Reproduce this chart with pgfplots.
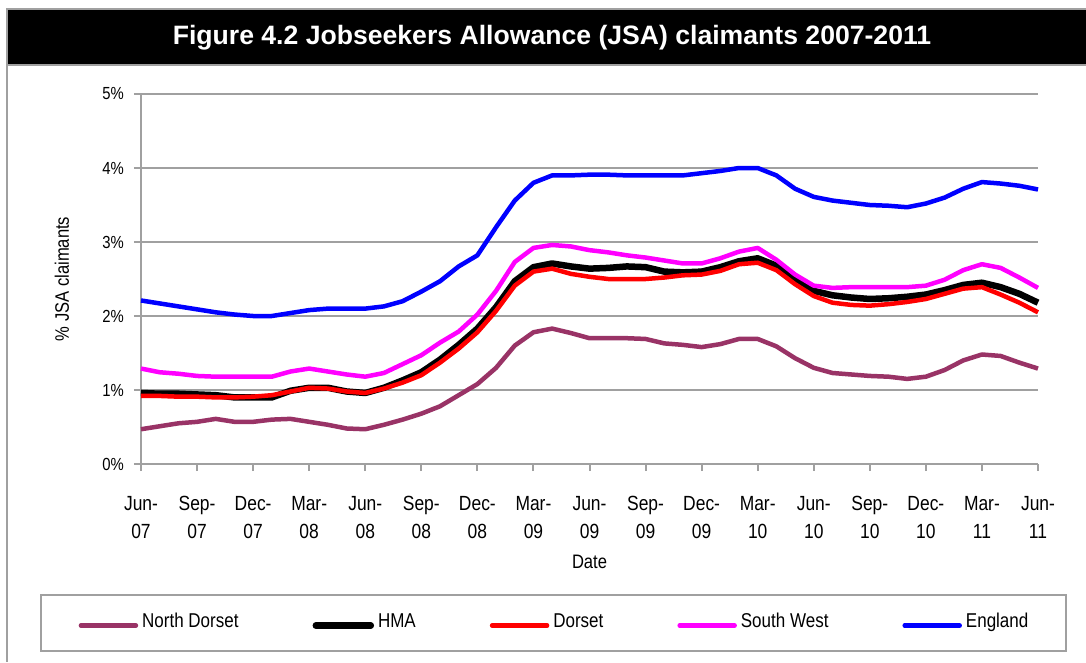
\documentclass[border=0pt]{standalone}
\usepackage{fontspec}
\setmainfont{Liberation Sans}[FakeStretch=0.85]
\newfontfamily\titlefont{Liberation Sans}
\usepackage{pgfplots}
\pgfplotsset{compat=1.18}
\usepackage{pgfplotstable}
\definecolor{gridgray}{HTML}{A0A0A0}
\definecolor{plum}{HTML}{993366}
\definecolor{mag}{RGB}{255,0,255}
\definecolor{rd}{RGB}{255,0,0}
\definecolor{bl}{RGB}{0,0,255}
\newcommand\tl[2]{\begin{tabular}[t]{@{}c@{}}#1\\#2\end{tabular}}
\pgfplotstableread{
m ND HMA DOR SW ENG
0 0.47 0.96 0.92 1.29 2.21
1 0.51 0.95 0.92 1.24 2.17
2 0.55 0.95 0.91 1.22 2.13
3 0.57 0.94 0.91 1.19 2.09
4 0.61 0.93 0.90 1.18 2.05
5 0.57 0.90 0.90 1.18 2.02
6 0.57 0.90 0.91 1.18 2.00
7 0.60 0.90 0.93 1.18 2.00
8 0.61 0.99 0.98 1.25 2.04
9 0.57 1.03 1.03 1.29 2.08
10 0.53 1.03 1.02 1.25 2.10
11 0.48 0.98 0.98 1.21 2.10
12 0.47 0.96 0.96 1.18 2.10
13 0.53 1.03 1.02 1.23 2.13
14 0.60 1.13 1.10 1.35 2.20
15 0.68 1.24 1.20 1.47 2.33
16 0.78 1.41 1.37 1.64 2.47
17 0.93 1.61 1.56 1.79 2.67
18 1.08 1.83 1.78 2.02 2.82
19 1.30 2.12 2.07 2.34 3.20
20 1.60 2.47 2.41 2.73 3.56
21 1.78 2.66 2.60 2.92 3.80
22 1.83 2.71 2.64 2.96 3.90
23 1.77 2.67 2.57 2.94 3.90
24 1.70 2.64 2.53 2.89 3.91
25 1.70 2.65 2.50 2.86 3.91
26 1.70 2.67 2.50 2.82 3.90
27 1.69 2.66 2.50 2.79 3.90
28 1.63 2.60 2.52 2.75 3.90
29 1.61 2.59 2.55 2.71 3.90
30 1.58 2.60 2.56 2.71 3.93
31 1.62 2.66 2.61 2.78 3.96
32 1.69 2.74 2.70 2.87 4.00
33 1.69 2.78 2.72 2.92 4.00
34 1.59 2.68 2.62 2.76 3.90
35 1.43 2.50 2.43 2.56 3.72
36 1.30 2.34 2.27 2.41 3.61
37 1.23 2.28 2.18 2.38 3.56
38 1.21 2.25 2.15 2.39 3.53
39 1.19 2.23 2.14 2.39 3.50
40 1.18 2.24 2.16 2.39 3.49
41 1.15 2.26 2.19 2.39 3.47
42 1.18 2.29 2.23 2.41 3.52
43 1.27 2.35 2.30 2.49 3.60
44 1.40 2.42 2.37 2.62 3.72
45 1.48 2.45 2.39 2.70 3.81
46 1.46 2.39 2.29 2.65 3.79
47 1.37 2.30 2.18 2.52 3.76
48 1.29 2.18 2.05 2.38 3.71
}\jsa
\begin{document}
\begin{tikzpicture}[x=1pt,y=1pt]
\path[use as bounding box] (0,0) rectangle (1086,-662);
% frame and title bar
\fill[black] (7,-10) rectangle (1086,-63.5);
\draw[gridgray, line width=2pt] (7,-9) -- (1086,-9);
\draw[gridgray, line width=2pt] (7,-64.5) -- (1086,-64.5);
\draw[gridgray, line width=2pt] (7,-8) -- (7,-662);
\node[anchor=base, text=white, inner sep=0pt, font=\titlefont\bfseries\fontsize{26.6}{30}\selectfont] at (552,-44) {Figure 4.2 Jobseekers Allowance (JSA) claimants 2007-2011};
\begin{axis}[
  at={(141pt,-464pt)}, anchor=south west,
  scale only axis, width=897pt, height=370pt,
  xmin=0, xmax=48, ymin=0, ymax=5,
  axis x line*=bottom, axis y line*=left,
  axis line style={gridgray, line width=2pt, -},
  xtick={0,3,...,48},
  xticklabels={\tl{Jun-}{07},\tl{Sep-}{07},\tl{Dec-}{07},\tl{Mar-}{08},\tl{Jun-}{08},\tl{Sep-}{08},\tl{Dec-}{08},\tl{Mar-}{09},\tl{Jun-}{09},\tl{Sep-}{09},\tl{Dec-}{09},\tl{Mar-}{10},\tl{Jun-}{10},\tl{Sep-}{10},\tl{Dec-}{10},\tl{Mar-}{11},\tl{Jun-}{11}},
  ytick={0,1,2,3,4,5},
  yticklabels={0\%,1\%,2\%,3\%,4\%,5\%},
  tick align=outside,
  major tick length=7pt,
  tick style={gridgray, line width=2pt},
  ymajorgrids,
  grid style={gridgray, line width=2pt},
  xticklabel style={anchor=base, inner sep=0pt, yshift=-39pt, font=\fontsize{20.5}{28}\selectfont},
  yticklabel style={anchor=east, inner sep=0pt, xshift=-10pt, font=\fontsize{17.5}{20}\selectfont},
  xlabel={Date},
  every axis x label/.style={at={(axis description cs:0.5,-0.2811)}, anchor=base, inner sep=0pt, font=\fontsize{19.5}{22}\selectfont},
  ylabel={\% JSA claimants},
  every axis y label/.style={at={(axis description cs:-0.0803,0.5)}, rotate=90, anchor=base, inner sep=0pt, font=\fontsize{19.5}{22}\selectfont},
  legend columns=5,
  legend image code/.code={\draw[#1, line cap=round] (0pt,-3pt) -- (55pt,-3pt);},
  legend style={at={(axis description cs:0.4599,-0.4284)}, anchor=center,
    draw=gridgray, line width=2pt, inner xsep=38pt, inner ysep=19pt,
    font=\fontsize{20}{24}\selectfont,
    nodes={inner sep=0pt, text height=14pt, text depth=4pt},
    /tikz/every odd column/.append style={column sep=4pt},
    /tikz/every even column/.append style={column sep=74pt}},
  legend cell align=left,
  clip=false,
]
\addplot[plum, line width=4.5pt, line join=round] table[x=m, y=ND] {\jsa};
\addlegendentry{North Dorset}
\addplot[black, line width=6.5pt, line join=round] table[x=m, y=HMA] {\jsa};
\addlegendentry{HMA}
\addplot[rd, line width=4.5pt, line join=round] table[x=m, y=DOR] {\jsa};
\addlegendentry{Dorset}
\addplot[mag, line width=4.5pt, line join=round] table[x=m, y=SW] {\jsa};
\addlegendentry{South West}
\addplot[bl, line width=4.5pt, line join=round] table[x=m, y=ENG] {\jsa};
\addlegendentry{England}
\end{axis}
\end{tikzpicture}
\end{document}
